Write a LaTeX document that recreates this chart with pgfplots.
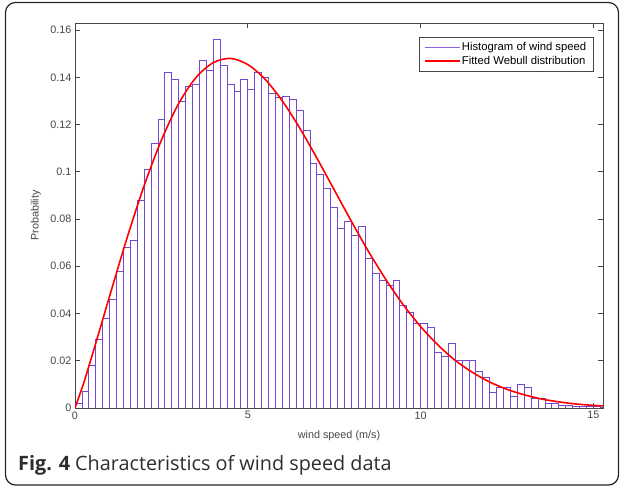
\documentclass[border=0pt]{standalone}
\usepackage{pgfplots}
\pgfplotsset{compat=1.18}
\usepackage{fontspec}
\setmainfont{Liberation Sans}
\newfontfamily\capfont{Open Sans}
\definecolor{histc}{RGB}{118,72,205}
\definecolor{legh}{RGB}{140,100,225}
\definecolor{axc}{RGB}{70,70,70}
\definecolor{capc}{RGB}{45,45,45}
\begin{document}
\begin{tikzpicture}[x=1pt,y=1pt]
\useasboundingbox (0,0) rectangle (624,489);
\draw[rounded corners=10pt, line width=1.2pt, black!85] (5.5,4) rectangle (618.5,486.5);
\begin{axis}[
  at={(75pt,81pt)}, anchor=south west,
  scale only axis, width=528pt, height=385pt,
  xmin=0, xmax=15.28, ymin=0, ymax=0.163,
  xtick={0,5,10,15},
  ytick={0,0.02,0.04,0.06,0.08,0.1,0.12,0.14,0.16},
  scaled y ticks=false,
  yticklabel style={/pgf/number format/fixed,/pgf/number format/precision=2},
  /pgf/number format/assume math mode=true,
  tick align=inside, major tick length=5pt,
  axis line style={axc, line width=0.7pt},
  every tick/.style={axc, line width=0.6pt},
  tick label style={font=\fontsize{10.8}{12}\selectfont, text=axc},
  label style={font=\fontsize{10.8}{12}\selectfont, text=axc},
  xlabel={wind speed (m/s)},
  ylabel={Probability},
  xlabel style={at={(axis description cs:0.5,-0.073)}, anchor=center},
  ylabel style={at={(axis description cs:-0.074,0.5)}, anchor=center},
  legend style={at={(0.981,0.9636)}, anchor=north east, draw=axc,
    font=\fontsize{11.3}{13}\selectfont, inner xsep=5pt, inner ysep=4pt,
    row sep=1pt, nodes={inner sep=1.5pt}},
  legend cell align=left,
]
\addplot[ybar interval, draw=histc, fill=white, line width=0.8pt,
  legend image code/.code={\draw[draw=legh, line width=1.4pt] (0pt,0pt) -- (35pt,0pt);}] coordinates {
(0.0,0.002) (0.2,0.007) (0.4,0.018) (0.6,0.029) (0.8,0.038)
(1.0,0.046) (1.2,0.058) (1.4,0.068) (1.6,0.071) (1.8,0.088)
(2.0,0.101) (2.2,0.112) (2.4,0.122) (2.6,0.142) (2.8,0.139)
(3.0,0.130) (3.2,0.136) (3.4,0.137) (3.6,0.147) (3.8,0.143)
(4.0,0.156) (4.2,0.145) (4.4,0.137) (4.6,0.134) (4.8,0.139)
(5.0,0.135) (5.2,0.142) (5.4,0.140) (5.6,0.133) (5.8,0.1315)
(6.0,0.132) (6.2,0.1305) (6.4,0.126) (6.6,0.1175) (6.8,0.1035)
(7.0,0.0987) (7.2,0.093) (7.4,0.085) (7.6,0.076) (7.8,0.079)
(8.0,0.073) (8.2,0.077) (8.4,0.0635) (8.6,0.057) (8.8,0.054)
(9.0,0.052) (9.2,0.054) (9.4,0.0436) (9.6,0.0404) (9.8,0.0357)
(10.0,0.036) (10.2,0.034) (10.4,0.0234) (10.6,0.0217) (10.8,0.0275)
(11.0,0.020) (11.2,0.020) (11.4,0.020) (11.6,0.0153) (11.8,0.013)
(12.0,0.0064) (12.2,0.0089) (12.4,0.0087) (12.6,0.005) (12.8,0.0098)
(13.0,0.0087) (13.2,0.004) (13.4,0.004) (13.6,0.002) (13.8,0.002)
(14.0,0.0012) (14.2,0.001) (14.4,0.0008) (14.6,0.0008) (14.8,0.0005)
(15.0,0.0005) (15.2,0.0003) (15.4,0.0003)
};
\addlegendentry{Histogram of wind speed}
\addplot[red, line width=1.6pt, smooth, no markers,
  legend image code/.code={\draw[draw=red, line width=1.5pt] (0pt,0pt) -- (35pt,0pt);}] coordinates {
(0,0) (0.25,0.0105) (0.5,0.0225) (0.75,0.0348) (1,0.0473) (1.5,0.0717)
(2,0.0941) (2.5,0.1134) (3,0.1289) (3.5,0.1399) (4,0.1462) (4.5,0.1480)
(5,0.1454) (5.5,0.1392) (6,0.1300) (6.5,0.1186) (7,0.1058) (7.5,0.0924)
(8,0.0790) (8.5,0.0661) (9,0.0543) (9.5,0.0437) (10,0.0345) (10.5,0.0267)
(11,0.0202) (11.5,0.0151) (12,0.0110) (12.5,0.0079) (13,0.0056) (13.5,0.0038)
(14,0.0026) (14.5,0.0017) (15,0.0011) (15.3,0.0009)
};
\addlegendentry{Fitted Webull distribution}
\end{axis}
\node[anchor=base west, inner sep=0pt, text=capc] at (18,18)
  {\capfont\fontsize{19.8}{23}\selectfont\textbf{Fig. 4} Characteristics of wind speed data};
\end{tikzpicture}
\end{document}
